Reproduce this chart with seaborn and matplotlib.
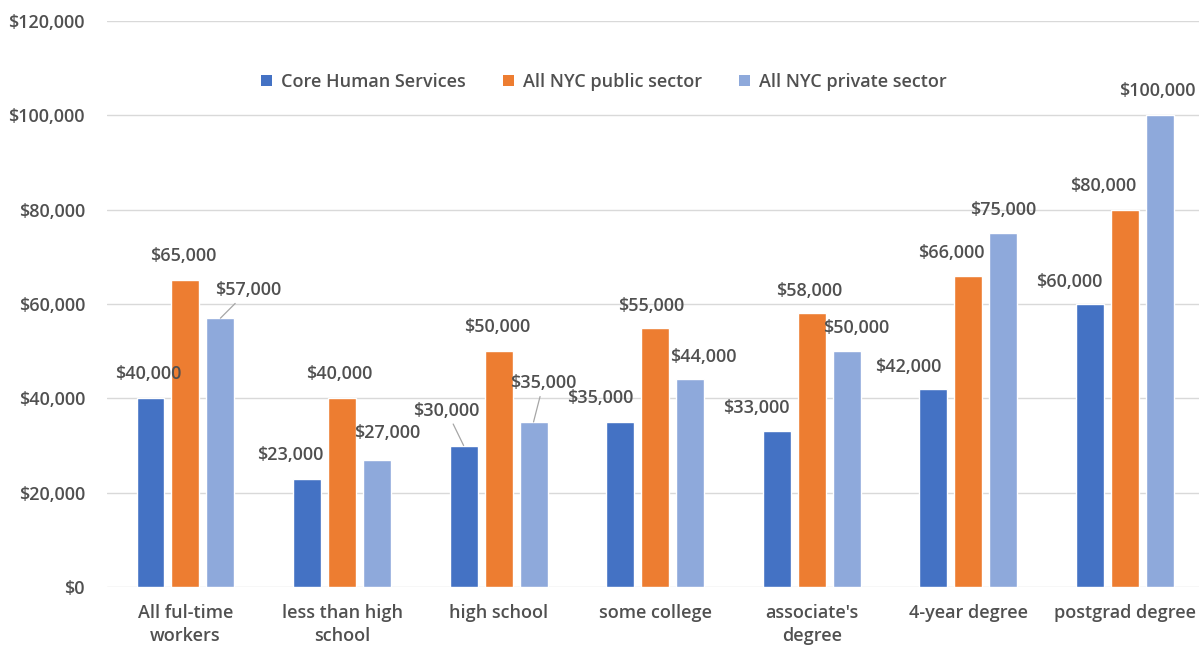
import matplotlib
matplotlib.use("Agg")
import matplotlib.pyplot as plt
import seaborn as sns
import pandas as pd
from matplotlib.patches import Patch
from matplotlib.ticker import FuncFormatter

# ---- data ----
categories = ["All ful-time\nworkers", "less than high\nschool", "high school",
              "some college", "associate's\ndegree", "4-year degree", "postgrad degree"]
series = ["Core Human Services", "All NYC public sector", "All NYC private sector"]
core_human_services = [40000, 23000, 30000, 35000, 33000, 42000, 60000]
nyc_public_sector = [65000, 40000, 50000, 55000, 58000, 66000, 80000]
nyc_private_sector = [57000, 27000, 35000, 44000, 50000, 75000, 100000]
y_ticks = [0, 20000, 40000, 60000, 80000, 100000, 120000]

colors = ["#4472C4", "#ED7D31", "#8EA9DB"]
text_color = "#505050"

rows = []
for s, vals in zip(series, [core_human_services, nyc_public_sector, nyc_private_sector]):
    for c, v in zip(categories, vals):
        rows.append({"category": c, "series": s, "value": v})
df = pd.DataFrame(rows)

sns.set_theme(style="white")
plt.rcParams["font.family"] = ["Open Sans", "DejaVu Sans"]

fig = plt.figure(figsize=(11.99, 6.52), dpi=100)
ax = fig.add_axes([0.0894, 0.0997, 0.914, 0.868])

sns.barplot(data=df, x="category", y="value", hue="series", order=categories,
            hue_order=series, palette=colors, width=0.67, gap=0.2,
            saturation=1, ax=ax, legend=False, errorbar=None)

ax.set_ylim(0, 120000)
ax.set_xlim(-0.5, 6.5)
ax.set_yticks(y_ticks)
ax.yaxis.set_major_formatter(FuncFormatter(lambda v, p: f"${v:,.0f}"))
ax.grid(axis="y", color="#d9d9d9", linewidth=1.0)
ax.grid(axis="x", visible=False)
ax.set_axisbelow(True)
for sp in ax.spines.values():
    sp.set_visible(False)
ax.set_xlabel("")
ax.set_ylabel("")
ax.tick_params(axis="y", length=0, pad=16, labelsize=13, labelcolor=text_color)
ax.tick_params(axis="x", length=0, pad=12, labelsize=13, labelcolor=text_color)
for lbl in ax.get_yticklabels() + ax.get_xticklabels():
    lbl.set_fontweight("semibold")
for lbl in ax.get_xticklabels():
    lbl.set_linespacing(1.35)

# label offsets (pixels) relative to default spot above bar: per series, per category
label_dx = [
    [-2, -17, -17, -20, -20, -25, -21],
    [-2, -3, -1, -4, -3, -17, -22],
    [28, 10, 10, 13, 10, 0, -2],
]
label_dy = [
    [0, 0, 11, 0, -1, -2, -2],
    [0, 0, 0, -2, -2, -1, 0],
    [4, 3, 15, -2, -1, -1, 0],
]
leaders = {(2, 0), (0, 2), (2, 2)}

for si, cont in enumerate(ax.containers):
    for ci, bar in enumerate(cont):
        x = bar.get_x() + bar.get_width() / 2
        h = bar.get_height()
        dx = label_dx[si][ci]
        dy = 24 + label_dy[si][ci]
        arrow = None
        if (si, ci) in leaders:
            arrow = dict(arrowstyle="-", color="#a6a6a6", lw=0.9,
                         shrinkA=1, shrinkB=0)
        ax.annotate(f"${h:,.0f}", xy=(x, h), xytext=(dx, dy),
                    textcoords="offset pixels", ha="center", va="center",
                    fontsize=13, fontweight="semibold", color=text_color,
                    arrowprops=arrow, annotation_clip=False)

handles = [Patch(facecolor=c, edgecolor="none", label=s) for c, s in zip(colors, series)]
leg = fig.legend(handles=handles, loc="center", bbox_to_anchor=(604 / 1199, 1 - 82 / 652),
                 ncol=3, frameon=False, handlelength=0.6, handleheight=0.6,
                 handletextpad=0.5, columnspacing=2.05,
                 prop={"size": 13, "weight": "semibold"})
for t in leg.get_texts():
    t.set_color(text_color)

fig.savefig("out.png", dpi=100, facecolor="white")
